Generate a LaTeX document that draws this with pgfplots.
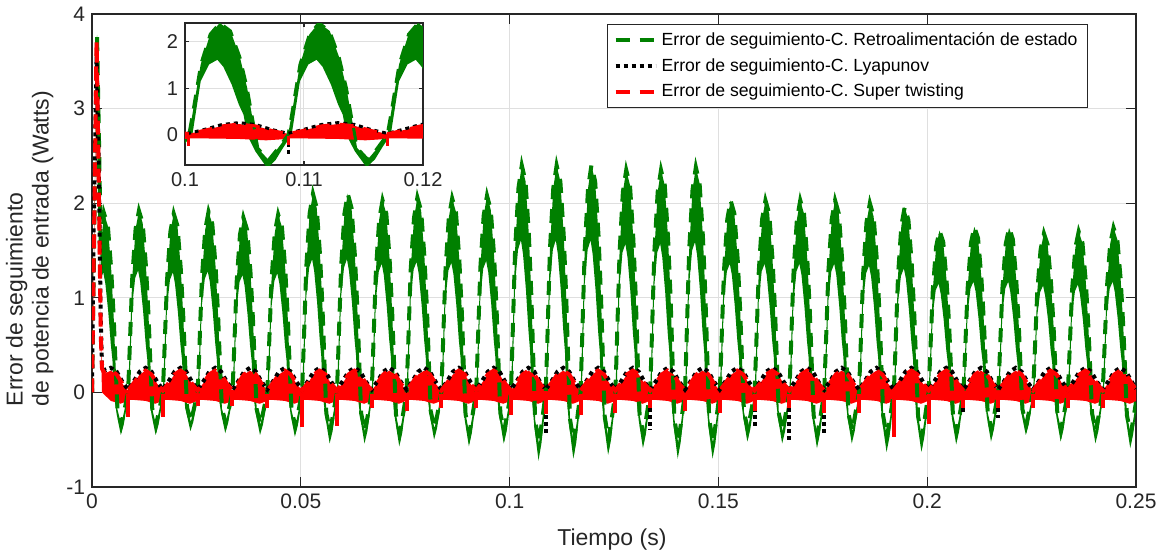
\documentclass[border=0pt]{standalone}
\usepackage{fontspec}
\setmainfont{Liberation Sans}
\usepackage{pgfplots}
\usepackage{pgfplotstable}
\pgfplotsset{compat=1.18}
\usepgfplotslibrary{fillbetween}
\definecolor{mgreen}{rgb}{0,0.5,0}
\definecolor{axgray}{rgb}{0.15,0.15,0.15}
\definecolor{gridgray}{rgb}{0.875,0.875,0.875}

% green band: upper edge
\pgfplotstableread[row sep=\\]{
t v\\
0 0\\ 0.0005 1.55\\ 0.0012 3.78\\ 0.0017 2.60\\ 0.0021 1.50\\ 0.0025 1.72\\ 0.0029 1.89\\ 0.0038 1.76\\ 0.0046 1.30\\ 0.0052 0.79\\ 0.0056 0.34\\ 0.0061 -0.18\\ 0.0070 -0.34\\ 0.0077 -0.20\\
0.00864 0\\ 0.00894 0.35\\ 0.00964 1.21\\ 0.01044 1.73\\ 0.01124 1.92\\ 0.01214 1.79\\ 0.01294 1.32\\ 0.01354 0.81\\ 0.01394 0.35\\ 0.01444 -0.18\\ 0.01534 -0.34\\ 0.01604 -0.20\\
0.01697 0\\ 0.01727 0.34\\ 0.01797 1.19\\ 0.01877 1.70\\ 0.01957 1.89\\ 0.02047 1.76\\ 0.02127 1.30\\ 0.02187 0.79\\ 0.02227 0.34\\ 0.02277 -0.16\\ 0.02367 -0.31\\ 0.02437 -0.18\\
0.02531 0\\ 0.02561 0.34\\ 0.02631 1.20\\ 0.02711 1.72\\ 0.02791 1.91\\ 0.02881 1.78\\ 0.02961 1.32\\ 0.03021 0.80\\ 0.03061 0.34\\ 0.03111 -0.17\\ 0.03201 -0.32\\ 0.03271 -0.19\\
0.03364 0\\ 0.03394 0.33\\ 0.03464 1.17\\ 0.03544 1.67\\ 0.03624 1.85\\ 0.03714 1.72\\ 0.03794 1.28\\ 0.03854 0.78\\ 0.03894 0.33\\ 0.03944 -0.18\\ 0.04034 -0.34\\ 0.04104 -0.20\\
0.04198 0\\ 0.04228 0.34\\ 0.04298 1.18\\ 0.04378 1.69\\ 0.04458 1.88\\ 0.04548 1.75\\ 0.04628 1.30\\ 0.04688 0.79\\ 0.04728 0.34\\ 0.04778 -0.19\\ 0.04868 -0.35\\ 0.04938 -0.21\\
0.05031 0\\ 0.05061 0.38\\ 0.05131 1.32\\ 0.05211 1.89\\ 0.05291 2.10\\ 0.05381 1.95\\ 0.05461 1.45\\ 0.05521 0.88\\ 0.05561 0.38\\ 0.05611 -0.22\\ 0.05701 -0.41\\ 0.05771 -0.24\\
0.05865 0\\ 0.05895 0.38\\ 0.05965 1.32\\ 0.06045 1.89\\ 0.06125 2.10\\ 0.06215 1.95\\ 0.06295 1.45\\ 0.06355 0.88\\ 0.06395 0.38\\ 0.06445 -0.22\\ 0.06535 -0.41\\ 0.06605 -0.24\\
0.06698 0\\ 0.06728 0.37\\ 0.06798 1.28\\ 0.06878 1.83\\ 0.06958 2.03\\ 0.07048 1.89\\ 0.07128 1.40\\ 0.07188 0.85\\ 0.07228 0.37\\ 0.07278 -0.23\\ 0.07368 -0.43\\ 0.07438 -0.26\\
0.07532 0\\ 0.07562 0.37\\ 0.07632 1.30\\ 0.07712 1.85\\ 0.07792 2.06\\ 0.07882 1.92\\ 0.07962 1.42\\ 0.08022 0.87\\ 0.08062 0.37\\ 0.08112 -0.20\\ 0.08202 -0.38\\ 0.08272 -0.23\\
0.08365 0\\ 0.08395 0.37\\ 0.08465 1.29\\ 0.08545 1.85\\ 0.08625 2.05\\ 0.08715 1.91\\ 0.08795 1.41\\ 0.08855 0.86\\ 0.08895 0.37\\ 0.08945 -0.23\\ 0.09035 -0.43\\ 0.09105 -0.26\\
0.09199 0\\ 0.09229 0.37\\ 0.09299 1.31\\ 0.09379 1.87\\ 0.09459 2.08\\ 0.09549 1.93\\ 0.09629 1.44\\ 0.09689 0.87\\ 0.09729 0.37\\ 0.09779 -0.22\\ 0.09869 -0.41\\ 0.09939 -0.24\\
0.10032 0\\ 0.10062 0.43\\ 0.10132 1.51\\ 0.10212 2.16\\ 0.10292 2.40\\ 0.10382 2.23\\ 0.10462 1.66\\ 0.10522 1.01\\ 0.10562 0.43\\ 0.10612 -0.29\\ 0.10702 -0.54\\ 0.10772 -0.32\\
0.10866 0\\ 0.10896 0.43\\ 0.10966 1.51\\ 0.11046 2.16\\ 0.11126 2.40\\ 0.11216 2.23\\ 0.11296 1.66\\ 0.11356 1.01\\ 0.11396 0.43\\ 0.11446 -0.28\\ 0.11536 -0.53\\ 0.11606 -0.32\\
0.11699 0\\ 0.11729 0.43\\ 0.11799 1.51\\ 0.11879 2.16\\ 0.11959 2.40\\ 0.12049 2.23\\ 0.12129 1.66\\ 0.12189 1.01\\ 0.12229 0.43\\ 0.12279 -0.26\\ 0.12369 -0.50\\ 0.12439 -0.30\\
0.12533 0\\ 0.12563 0.42\\ 0.12633 1.48\\ 0.12713 2.12\\ 0.12793 2.35\\ 0.12883 2.19\\ 0.12963 1.62\\ 0.13023 0.99\\ 0.13063 0.42\\ 0.13113 -0.24\\ 0.13203 -0.44\\ 0.13273 -0.27\\
0.13366 0\\ 0.13396 0.42\\ 0.13466 1.48\\ 0.13546 2.12\\ 0.13626 2.35\\ 0.13716 2.19\\ 0.13796 1.62\\ 0.13856 0.99\\ 0.13896 0.42\\ 0.13946 -0.28\\ 0.14036 -0.53\\ 0.14106 -0.32\\
0.14200 0\\ 0.14230 0.43\\ 0.14300 1.50\\ 0.14380 2.14\\ 0.14460 2.38\\ 0.14550 2.21\\ 0.14630 1.64\\ 0.14690 1.00\\ 0.14730 0.43\\ 0.14780 -0.28\\ 0.14870 -0.53\\ 0.14940 -0.32\\
0.15033 0\\ 0.15063 0.37\\ 0.15133 1.28\\ 0.15213 1.83\\ 0.15293 2.03\\ 0.15383 1.89\\ 0.15463 1.40\\ 0.15523 0.85\\ 0.15563 0.37\\ 0.15613 -0.21\\ 0.15703 -0.39\\ 0.15773 -0.23\\
0.15867 0\\ 0.15897 0.37\\ 0.15967 1.28\\ 0.16047 1.83\\ 0.16127 2.03\\ 0.16217 1.89\\ 0.16297 1.40\\ 0.16357 0.85\\ 0.16397 0.37\\ 0.16447 -0.22\\ 0.16537 -0.41\\ 0.16607 -0.24\\
0.16700 0\\ 0.16730 0.37\\ 0.16800 1.28\\ 0.16880 1.83\\ 0.16960 2.03\\ 0.17050 1.89\\ 0.17130 1.40\\ 0.17190 0.85\\ 0.17230 0.37\\ 0.17280 -0.24\\ 0.17370 -0.44\\ 0.17440 -0.27\\
0.17534 0\\ 0.17564 0.37\\ 0.17634 1.28\\ 0.17714 1.83\\ 0.17794 2.03\\ 0.17884 1.89\\ 0.17964 1.40\\ 0.18024 0.85\\ 0.18064 0.37\\ 0.18114 -0.22\\ 0.18204 -0.41\\ 0.18274 -0.24\\
0.18367 0\\ 0.18397 0.36\\ 0.18467 1.26\\ 0.18547 1.80\\ 0.18627 2.00\\ 0.18717 1.86\\ 0.18797 1.38\\ 0.18857 0.84\\ 0.18897 0.36\\ 0.18947 -0.25\\ 0.19037 -0.47\\ 0.19107 -0.28\\
0.19201 0\\ 0.19231 0.35\\ 0.19301 1.23\\ 0.19381 1.76\\ 0.19461 1.96\\ 0.19551 1.82\\ 0.19631 1.35\\ 0.19691 0.82\\ 0.19731 0.35\\ 0.19781 -0.25\\ 0.19871 -0.47\\ 0.19941 -0.28\\
0.20034 0\\ 0.20064 0.31\\ 0.20134 1.08\\ 0.20214 1.54\\ 0.20294 1.71\\ 0.20384 1.59\\ 0.20464 1.18\\ 0.20524 0.72\\ 0.20564 0.31\\ 0.20614 -0.22\\ 0.20704 -0.41\\ 0.20774 -0.25\\
0.20868 0\\ 0.20898 0.32\\ 0.20968 1.10\\ 0.21048 1.58\\ 0.21128 1.75\\ 0.21218 1.63\\ 0.21298 1.21\\ 0.21358 0.74\\ 0.21398 0.32\\ 0.21448 -0.21\\ 0.21538 -0.39\\ 0.21608 -0.23\\
0.21701 0\\ 0.21731 0.31\\ 0.21801 1.10\\ 0.21881 1.57\\ 0.21961 1.74\\ 0.22051 1.62\\ 0.22131 1.20\\ 0.22191 0.73\\ 0.22231 0.31\\ 0.22281 -0.18\\ 0.22371 -0.34\\ 0.22441 -0.20\\
0.22535 0\\ 0.22565 0.30\\ 0.22635 1.06\\ 0.22715 1.51\\ 0.22795 1.68\\ 0.22885 1.56\\ 0.22965 1.16\\ 0.23025 0.71\\ 0.23065 0.30\\ 0.23115 -0.21\\ 0.23205 -0.39\\ 0.23275 -0.23\\
0.23368 0\\ 0.23398 0.31\\ 0.23468 1.07\\ 0.23548 1.53\\ 0.23628 1.70\\ 0.23718 1.58\\ 0.23798 1.17\\ 0.23858 0.71\\ 0.23898 0.31\\ 0.23948 -0.22\\ 0.24038 -0.41\\ 0.24108 -0.24\\
0.24202 0\\ 0.24232 0.31\\ 0.24302 1.10\\ 0.24382 1.57\\ 0.24462 1.74\\ 0.24552 1.62\\ 0.24632 1.20\\ 0.24692 0.73\\ 0.24732 0.31\\ 0.24782 -0.24\\ 0.24872 -0.44\\ 0.24942 -0.27\\ 0.25000 -0.10\\
}\gu

% green band: lower edge
\pgfplotstableread[row sep=\\]{
t v\\
0 0\\ 0.0005 1.45\\ 0.0012 3.70\\ 0.0017 2.50\\ 0.0021 1.20\\ 0.0027 1.27\\ 0.0032 1.15\\ 0.0039 0.85\\ 0.0045 0.51\\ 0.0049 0.34\\ 0.0052 0\\ 0.0059 -0.23\\ 0.0069 -0.45\\ 0.0076 -0.34\\ 0.0082 -0.18\\
0.00894 0\\ 0.00964 0.92\\ 0.01034 1.21\\ 0.01104 1.29\\ 0.01154 1.17\\ 0.01224 0.86\\ 0.01284 0.52\\ 0.01324 0.35\\ 0.01354 0\\ 0.01424 -0.23\\ 0.01524 -0.45\\ 0.01594 -0.34\\ 0.01654 -0.18\\
0.01727 0\\ 0.01797 0.91\\ 0.01867 1.19\\ 0.01937 1.27\\ 0.01987 1.15\\ 0.02057 0.85\\ 0.02117 0.51\\ 0.02157 0.34\\ 0.02187 0\\ 0.02257 -0.21\\ 0.02357 -0.41\\ 0.02427 -0.31\\ 0.02487 -0.16\\
0.02561 0\\ 0.02631 0.92\\ 0.02701 1.20\\ 0.02771 1.28\\ 0.02821 1.17\\ 0.02891 0.86\\ 0.02951 0.52\\ 0.02991 0.34\\ 0.03021 0\\ 0.03091 -0.22\\ 0.03191 -0.43\\ 0.03261 -0.32\\ 0.03321 -0.17\\
0.03394 0\\ 0.03464 0.89\\ 0.03534 1.17\\ 0.03604 1.24\\ 0.03654 1.13\\ 0.03724 0.83\\ 0.03784 0.50\\ 0.03824 0.33\\ 0.03854 0\\ 0.03924 -0.23\\ 0.04024 -0.45\\ 0.04094 -0.34\\ 0.04154 -0.18\\
0.04228 0\\ 0.04298 0.90\\ 0.04368 1.18\\ 0.04438 1.26\\ 0.04488 1.15\\ 0.04558 0.85\\ 0.04618 0.51\\ 0.04658 0.34\\ 0.04688 0\\ 0.04758 -0.24\\ 0.04858 -0.47\\ 0.04928 -0.35\\ 0.04988 -0.19\\
0.05061 0\\ 0.05131 1.01\\ 0.05201 1.32\\ 0.05271 1.41\\ 0.05321 1.28\\ 0.05391 0.95\\ 0.05451 0.57\\ 0.05491 0.38\\ 0.05521 0\\ 0.05591 -0.27\\ 0.05691 -0.54\\ 0.05761 -0.41\\ 0.05821 -0.22\\
0.05895 0\\ 0.05965 1.01\\ 0.06035 1.32\\ 0.06105 1.41\\ 0.06155 1.28\\ 0.06225 0.95\\ 0.06285 0.57\\ 0.06325 0.38\\ 0.06355 0\\ 0.06425 -0.27\\ 0.06525 -0.54\\ 0.06595 -0.41\\ 0.06655 -0.22\\
0.06728 0\\ 0.06798 0.97\\ 0.06868 1.28\\ 0.06938 1.36\\ 0.06988 1.24\\ 0.07058 0.91\\ 0.07118 0.55\\ 0.07158 0.37\\ 0.07188 0\\ 0.07258 -0.29\\ 0.07358 -0.57\\ 0.07428 -0.43\\ 0.07488 -0.23\\
0.07562 0\\ 0.07632 0.99\\ 0.07702 1.30\\ 0.07772 1.38\\ 0.07822 1.26\\ 0.07892 0.93\\ 0.07952 0.56\\ 0.07992 0.37\\ 0.08022 0\\ 0.08092 -0.25\\ 0.08192 -0.50\\ 0.08262 -0.38\\ 0.08322 -0.20\\
0.08395 0\\ 0.08465 0.98\\ 0.08535 1.29\\ 0.08605 1.37\\ 0.08655 1.25\\ 0.08725 0.92\\ 0.08785 0.55\\ 0.08825 0.37\\ 0.08855 0\\ 0.08925 -0.29\\ 0.09025 -0.57\\ 0.09095 -0.43\\ 0.09155 -0.23\\
0.09229 0\\ 0.09299 1.00\\ 0.09369 1.31\\ 0.09439 1.39\\ 0.09489 1.27\\ 0.09559 0.94\\ 0.09619 0.56\\ 0.09659 0.37\\ 0.09689 0\\ 0.09759 -0.27\\ 0.09859 -0.54\\ 0.09929 -0.41\\ 0.09989 -0.22\\
0.10062 0\\ 0.10132 1.15\\ 0.10202 1.51\\ 0.10272 1.61\\ 0.10322 1.46\\ 0.10392 1.08\\ 0.10452 0.65\\ 0.10492 0.43\\ 0.10522 0\\ 0.10592 -0.36\\ 0.10692 -0.72\\ 0.10762 -0.54\\ 0.10822 -0.29\\
0.10896 0\\ 0.10966 1.15\\ 0.11036 1.51\\ 0.11106 1.61\\ 0.11156 1.46\\ 0.11226 1.08\\ 0.11286 0.65\\ 0.11326 0.43\\ 0.11356 0\\ 0.11426 -0.35\\ 0.11526 -0.70\\ 0.11596 -0.53\\ 0.11656 -0.28\\
0.11729 0\\ 0.11799 1.15\\ 0.11869 1.51\\ 0.11939 1.61\\ 0.11989 1.46\\ 0.12059 1.08\\ 0.12119 0.65\\ 0.12159 0.43\\ 0.12189 0\\ 0.12259 -0.33\\ 0.12359 -0.66\\ 0.12429 -0.50\\ 0.12489 -0.26\\
0.12563 0\\ 0.12633 1.13\\ 0.12703 1.48\\ 0.12773 1.57\\ 0.12823 1.43\\ 0.12893 1.06\\ 0.12953 0.63\\ 0.12993 0.42\\ 0.13023 0\\ 0.13093 -0.30\\ 0.13193 -0.59\\ 0.13263 -0.44\\ 0.13323 -0.24\\
0.13396 0\\ 0.13466 1.13\\ 0.13536 1.48\\ 0.13606 1.57\\ 0.13656 1.43\\ 0.13726 1.06\\ 0.13786 0.63\\ 0.13826 0.42\\ 0.13856 0\\ 0.13926 -0.35\\ 0.14026 -0.70\\ 0.14096 -0.53\\ 0.14156 -0.28\\
0.14230 0\\ 0.14300 1.14\\ 0.14370 1.50\\ 0.14440 1.59\\ 0.14490 1.45\\ 0.14560 1.07\\ 0.14620 0.64\\ 0.14660 0.43\\ 0.14690 0\\ 0.14760 -0.35\\ 0.14860 -0.70\\ 0.14930 -0.53\\ 0.14990 -0.28\\
0.15063 0\\ 0.15133 0.97\\ 0.15203 1.28\\ 0.15273 1.36\\ 0.15323 1.24\\ 0.15393 0.91\\ 0.15453 0.55\\ 0.15493 0.37\\ 0.15523 0\\ 0.15593 -0.26\\ 0.15693 -0.52\\ 0.15763 -0.39\\ 0.15823 -0.21\\
0.15897 0\\ 0.15967 0.97\\ 0.16037 1.28\\ 0.16107 1.36\\ 0.16157 1.24\\ 0.16227 0.91\\ 0.16287 0.55\\ 0.16327 0.37\\ 0.16357 0\\ 0.16427 -0.27\\ 0.16527 -0.54\\ 0.16597 -0.41\\ 0.16657 -0.22\\
0.16730 0\\ 0.16800 0.97\\ 0.16870 1.28\\ 0.16940 1.36\\ 0.16990 1.24\\ 0.17060 0.91\\ 0.17120 0.55\\ 0.17160 0.37\\ 0.17190 0\\ 0.17260 -0.30\\ 0.17360 -0.59\\ 0.17430 -0.44\\ 0.17490 -0.24\\
0.17564 0\\ 0.17634 0.97\\ 0.17704 1.28\\ 0.17774 1.36\\ 0.17824 1.24\\ 0.17894 0.91\\ 0.17954 0.55\\ 0.17994 0.37\\ 0.18024 0\\ 0.18094 -0.27\\ 0.18194 -0.54\\ 0.18264 -0.41\\ 0.18324 -0.22\\
0.18397 0\\ 0.18467 0.96\\ 0.18537 1.26\\ 0.18607 1.34\\ 0.18657 1.22\\ 0.18727 0.90\\ 0.18787 0.54\\ 0.18827 0.36\\ 0.18857 0\\ 0.18927 -0.32\\ 0.19027 -0.63\\ 0.19097 -0.47\\ 0.19157 -0.25\\
0.19231 0\\ 0.19301 0.94\\ 0.19371 1.23\\ 0.19441 1.31\\ 0.19491 1.20\\ 0.19561 0.88\\ 0.19621 0.53\\ 0.19661 0.35\\ 0.19691 0\\ 0.19761 -0.32\\ 0.19861 -0.63\\ 0.19931 -0.47\\ 0.19991 -0.25\\
0.20064 0\\ 0.20134 0.82\\ 0.20204 1.08\\ 0.20274 1.15\\ 0.20324 1.04\\ 0.20394 0.77\\ 0.20454 0.46\\ 0.20494 0.31\\ 0.20524 0\\ 0.20594 -0.28\\ 0.20694 -0.55\\ 0.20764 -0.41\\ 0.20824 -0.22\\
0.20898 0\\ 0.20968 0.84\\ 0.21038 1.10\\ 0.21108 1.17\\ 0.21158 1.07\\ 0.21228 0.79\\ 0.21288 0.47\\ 0.21328 0.32\\ 0.21358 0\\ 0.21428 -0.26\\ 0.21528 -0.52\\ 0.21598 -0.39\\ 0.21658 -0.21\\
0.21731 0\\ 0.21801 0.84\\ 0.21871 1.10\\ 0.21941 1.17\\ 0.21991 1.06\\ 0.22061 0.78\\ 0.22121 0.47\\ 0.22161 0.31\\ 0.22191 0\\ 0.22261 -0.23\\ 0.22361 -0.45\\ 0.22431 -0.34\\ 0.22491 -0.18\\
0.22565 0\\ 0.22635 0.81\\ 0.22705 1.06\\ 0.22775 1.13\\ 0.22825 1.02\\ 0.22895 0.76\\ 0.22955 0.45\\ 0.22995 0.30\\ 0.23025 0\\ 0.23095 -0.26\\ 0.23195 -0.52\\ 0.23265 -0.39\\ 0.23325 -0.21\\
0.23398 0\\ 0.23468 0.82\\ 0.23538 1.07\\ 0.23608 1.14\\ 0.23658 1.04\\ 0.23728 0.77\\ 0.23788 0.46\\ 0.23828 0.31\\ 0.23858 0\\ 0.23928 -0.27\\ 0.24028 -0.54\\ 0.24098 -0.41\\ 0.24158 -0.22\\
0.24232 0\\ 0.24302 0.84\\ 0.24372 1.10\\ 0.24442 1.17\\ 0.24492 1.06\\ 0.24562 0.78\\ 0.24622 0.47\\ 0.24662 0.31\\ 0.24692 0\\ 0.24762 -0.30\\ 0.24862 -0.59\\ 0.24932 -0.44\\ 0.24992 -0.24\\ 0.25000 -0.22\\
}\gl

% super twisting (r) and Lyapunov (b): upper edge
\pgfplotstableread[row sep=\\]{
t r b\\
0 0 0\\ 0.0004 1.35 1.70\\ 0.0011 3.72 3.55\\ 0.0016 2.30 2.45\\ 0.0021 0.60 0.75\\ 0.0024 0.25 0.29\\ 0.0031 0.20 0.23\\ 0.0045 0.23 0.26\\ 0.0059 0.19 0.22\\ 0.0073 0.09 0.11\\
0.00864 0.02 0.03\\ 0.01004 0.10 0.12\\ 0.01144 0.19 0.22\\ 0.01284 0.23 0.26\\ 0.01424 0.19 0.22\\ 0.01564 0.09 0.11\\
0.01697 0.02 0.03\\ 0.01837 0.10 0.12\\ 0.01977 0.19 0.22\\ 0.02117 0.23 0.26\\ 0.02257 0.19 0.22\\ 0.02397 0.09 0.11\\
0.02531 0.02 0.03\\ 0.02671 0.10 0.12\\ 0.02811 0.19 0.22\\ 0.02951 0.23 0.26\\ 0.03091 0.19 0.22\\ 0.03231 0.09 0.11\\
0.03364 0.02 0.03\\ 0.03504 0.10 0.12\\ 0.03644 0.19 0.22\\ 0.03784 0.23 0.26\\ 0.03924 0.19 0.22\\ 0.04064 0.09 0.11\\
0.04198 0.02 0.03\\ 0.04338 0.10 0.12\\ 0.04478 0.19 0.22\\ 0.04618 0.23 0.26\\ 0.04758 0.19 0.22\\ 0.04898 0.09 0.11\\
0.05031 0.02 0.03\\ 0.05171 0.10 0.12\\ 0.05311 0.19 0.22\\ 0.05451 0.23 0.26\\ 0.05591 0.19 0.22\\ 0.05731 0.09 0.11\\
0.05865 0.02 0.03\\ 0.06005 0.10 0.12\\ 0.06145 0.19 0.22\\ 0.06285 0.23 0.26\\ 0.06425 0.19 0.22\\ 0.06565 0.09 0.11\\
0.06698 0.02 0.03\\ 0.06838 0.10 0.12\\ 0.06978 0.19 0.22\\ 0.07118 0.23 0.26\\ 0.07258 0.19 0.22\\ 0.07398 0.09 0.11\\
0.07532 0.02 0.03\\ 0.07672 0.10 0.12\\ 0.07812 0.19 0.22\\ 0.07952 0.23 0.26\\ 0.08092 0.19 0.22\\ 0.08232 0.09 0.11\\
0.08365 0.02 0.03\\ 0.08505 0.10 0.12\\ 0.08645 0.19 0.22\\ 0.08785 0.23 0.26\\ 0.08925 0.19 0.22\\ 0.09065 0.09 0.11\\
0.09199 0.02 0.03\\ 0.09339 0.10 0.12\\ 0.09479 0.19 0.22\\ 0.09619 0.23 0.26\\ 0.09759 0.19 0.22\\ 0.09899 0.09 0.11\\
0.10032 0.02 0.03\\ 0.10172 0.10 0.12\\ 0.10312 0.19 0.22\\ 0.10452 0.23 0.26\\ 0.10592 0.19 0.22\\ 0.10732 0.09 0.11\\
0.10866 0.02 0.03\\ 0.11006 0.10 0.12\\ 0.11146 0.19 0.22\\ 0.11286 0.23 0.26\\ 0.11426 0.19 0.22\\ 0.11566 0.09 0.11\\
0.11699 0.02 0.03\\ 0.11839 0.10 0.12\\ 0.11979 0.19 0.22\\ 0.12119 0.23 0.26\\ 0.12259 0.19 0.22\\ 0.12399 0.09 0.11\\
0.12533 0.02 0.03\\ 0.12673 0.10 0.12\\ 0.12813 0.19 0.22\\ 0.12953 0.23 0.26\\ 0.13093 0.19 0.22\\ 0.13233 0.09 0.11\\
0.13366 0.02 0.03\\ 0.13506 0.10 0.12\\ 0.13646 0.19 0.22\\ 0.13786 0.23 0.26\\ 0.13926 0.19 0.22\\ 0.14066 0.09 0.11\\
0.14200 0.02 0.03\\ 0.14340 0.10 0.12\\ 0.14480 0.19 0.22\\ 0.14620 0.23 0.26\\ 0.14760 0.19 0.22\\ 0.14900 0.09 0.11\\
0.15033 0.02 0.03\\ 0.15173 0.10 0.12\\ 0.15313 0.19 0.22\\ 0.15453 0.23 0.26\\ 0.15593 0.19 0.22\\ 0.15733 0.09 0.11\\
0.15867 0.02 0.03\\ 0.16007 0.10 0.12\\ 0.16147 0.19 0.22\\ 0.16287 0.23 0.26\\ 0.16427 0.19 0.22\\ 0.16567 0.09 0.11\\
0.16700 0.02 0.03\\ 0.16840 0.10 0.12\\ 0.16980 0.19 0.22\\ 0.17120 0.23 0.26\\ 0.17260 0.19 0.22\\ 0.17400 0.09 0.11\\
0.17534 0.02 0.03\\ 0.17674 0.10 0.12\\ 0.17814 0.19 0.22\\ 0.17954 0.23 0.26\\ 0.18094 0.19 0.22\\ 0.18234 0.09 0.11\\
0.18367 0.02 0.03\\ 0.18507 0.10 0.12\\ 0.18647 0.19 0.22\\ 0.18787 0.23 0.26\\ 0.18927 0.19 0.22\\ 0.19067 0.09 0.11\\
0.19201 0.02 0.03\\ 0.19341 0.10 0.12\\ 0.19481 0.19 0.22\\ 0.19621 0.23 0.26\\ 0.19761 0.19 0.22\\ 0.19901 0.09 0.11\\
0.20034 0.02 0.03\\ 0.20174 0.10 0.12\\ 0.20314 0.19 0.22\\ 0.20454 0.23 0.26\\ 0.20594 0.19 0.22\\ 0.20734 0.09 0.11\\
0.20868 0.02 0.03\\ 0.21008 0.10 0.12\\ 0.21148 0.19 0.22\\ 0.21288 0.23 0.26\\ 0.21428 0.19 0.22\\ 0.21568 0.09 0.11\\
0.21701 0.02 0.03\\ 0.21841 0.10 0.12\\ 0.21981 0.19 0.22\\ 0.22121 0.23 0.26\\ 0.22261 0.19 0.22\\ 0.22401 0.09 0.11\\
0.22535 0.02 0.03\\ 0.22675 0.10 0.12\\ 0.22815 0.19 0.22\\ 0.22955 0.23 0.26\\ 0.23095 0.19 0.22\\ 0.23235 0.09 0.11\\
0.23368 0.02 0.03\\ 0.23508 0.10 0.12\\ 0.23648 0.19 0.22\\ 0.23788 0.23 0.26\\ 0.23928 0.19 0.22\\ 0.24068 0.09 0.11\\
0.24202 0.02 0.03\\ 0.24342 0.10 0.12\\ 0.24482 0.19 0.22\\ 0.24622 0.23 0.26\\ 0.24762 0.19 0.22\\ 0.24902 0.09 0.11\\ 0.25000 0.03 0.04\\
}\rbu

% super twisting: lower edge
\pgfplotstableread[row sep=\\]{
t v\\
0 0\\ 0.0005 1.50\\ 0.0011 3.60\\ 0.0016 2.20\\ 0.0021 0.50\\ 0.0024 0.00\\ 0.0045 -0.09\\ 0.0068 -0.12\\ 0.0080 -0.10\\
0.00864 -0.08\\ 0.01014 -0.08\\ 0.01284 -0.09\\ 0.01514 -0.12\\ 0.01634 -0.10\\
0.01697 -0.08\\ 0.01847 -0.08\\ 0.02117 -0.09\\ 0.02347 -0.12\\ 0.02467 -0.10\\
0.02531 -0.08\\ 0.02681 -0.08\\ 0.02951 -0.09\\ 0.03181 -0.12\\ 0.03301 -0.10\\
0.03364 -0.08\\ 0.03514 -0.08\\ 0.03784 -0.09\\ 0.04014 -0.12\\ 0.04134 -0.10\\
0.04198 -0.08\\ 0.04348 -0.08\\ 0.04618 -0.09\\ 0.04848 -0.12\\ 0.04968 -0.10\\
0.05031 -0.08\\ 0.05181 -0.08\\ 0.05451 -0.09\\ 0.05681 -0.12\\ 0.05801 -0.10\\
0.05865 -0.08\\ 0.06015 -0.08\\ 0.06285 -0.09\\ 0.06515 -0.12\\ 0.06635 -0.10\\
0.06698 -0.08\\ 0.06848 -0.08\\ 0.07118 -0.09\\ 0.07348 -0.12\\ 0.07468 -0.10\\
0.07532 -0.08\\ 0.07682 -0.08\\ 0.07952 -0.09\\ 0.08182 -0.12\\ 0.08302 -0.10\\
0.08365 -0.08\\ 0.08515 -0.08\\ 0.08785 -0.09\\ 0.09015 -0.12\\ 0.09135 -0.10\\
0.09199 -0.08\\ 0.09349 -0.08\\ 0.09619 -0.09\\ 0.09849 -0.12\\ 0.09969 -0.10\\
0.10032 -0.08\\ 0.10182 -0.08\\ 0.10452 -0.09\\ 0.10682 -0.12\\ 0.10802 -0.10\\
0.10866 -0.08\\ 0.11016 -0.08\\ 0.11286 -0.09\\ 0.11516 -0.12\\ 0.11636 -0.10\\
0.11699 -0.08\\ 0.11849 -0.08\\ 0.12119 -0.09\\ 0.12349 -0.12\\ 0.12469 -0.10\\
0.12533 -0.08\\ 0.12683 -0.08\\ 0.12953 -0.09\\ 0.13183 -0.12\\ 0.13303 -0.10\\
0.13366 -0.08\\ 0.13516 -0.08\\ 0.13786 -0.09\\ 0.14016 -0.12\\ 0.14136 -0.10\\
0.14200 -0.08\\ 0.14350 -0.08\\ 0.14620 -0.09\\ 0.14850 -0.12\\ 0.14970 -0.10\\
0.15033 -0.08\\ 0.15183 -0.08\\ 0.15453 -0.09\\ 0.15683 -0.12\\ 0.15803 -0.10\\
0.15867 -0.08\\ 0.16017 -0.08\\ 0.16287 -0.09\\ 0.16517 -0.12\\ 0.16637 -0.10\\
0.16700 -0.08\\ 0.16850 -0.08\\ 0.17120 -0.09\\ 0.17350 -0.12\\ 0.17470 -0.10\\
0.17534 -0.08\\ 0.17684 -0.08\\ 0.17954 -0.09\\ 0.18184 -0.12\\ 0.18304 -0.10\\
0.18367 -0.08\\ 0.18517 -0.08\\ 0.18787 -0.09\\ 0.19017 -0.12\\ 0.19137 -0.10\\
0.19201 -0.08\\ 0.19351 -0.08\\ 0.19621 -0.09\\ 0.19851 -0.12\\ 0.19971 -0.10\\
0.20034 -0.08\\ 0.20184 -0.08\\ 0.20454 -0.09\\ 0.20684 -0.12\\ 0.20804 -0.10\\
0.20868 -0.08\\ 0.21018 -0.08\\ 0.21288 -0.09\\ 0.21518 -0.12\\ 0.21638 -0.10\\
0.21701 -0.08\\ 0.21851 -0.08\\ 0.22121 -0.09\\ 0.22351 -0.12\\ 0.22471 -0.10\\
0.22535 -0.08\\ 0.22685 -0.08\\ 0.22955 -0.09\\ 0.23185 -0.12\\ 0.23305 -0.10\\
0.23368 -0.08\\ 0.23518 -0.08\\ 0.23788 -0.09\\ 0.24018 -0.12\\ 0.24138 -0.10\\
0.24202 -0.08\\ 0.24352 -0.08\\ 0.24622 -0.09\\ 0.24852 -0.12\\ 0.24972 -0.10\\ 0.25000 -0.09\\
}\rl

% downward spikes at the switching instants
\pgfplotstableread[row sep=\\]{
t v\\
0.00864 -0.02\\ 0.00864 -0.26\\ 0.00864 nan\\
0.01697 -0.02\\ 0.01697 -0.26\\ 0.01697 nan\\
0.02531 -0.02\\ 0.02531 -0.14\\ 0.02531 nan\\
0.03364 -0.02\\ 0.03364 -0.14\\ 0.03364 nan\\
0.04198 -0.02\\ 0.04198 -0.16\\ 0.04198 nan\\
0.05031 -0.02\\ 0.05031 -0.37\\ 0.05031 nan\\
0.05865 -0.02\\ 0.05865 -0.35\\ 0.05865 nan\\
0.06698 -0.02\\ 0.06698 -0.16\\ 0.06698 nan\\
0.07532 -0.02\\ 0.07532 -0.20\\ 0.07532 nan\\
0.08365 -0.02\\ 0.08365 -0.16\\ 0.08365 nan\\
0.09199 -0.02\\ 0.09199 -0.16\\ 0.09199 nan\\
0.10032 -0.02\\ 0.10032 -0.24\\ 0.10032 nan\\
0.10866 -0.02\\ 0.10866 -0.23\\ 0.10866 nan\\
0.11699 -0.02\\ 0.11699 -0.24\\ 0.11699 nan\\
0.12533 -0.02\\ 0.12533 -0.22\\ 0.12533 nan\\
0.13366 -0.02\\ 0.13366 -0.16\\ 0.13366 nan\\
0.14200 -0.02\\ 0.14200 -0.20\\ 0.14200 nan\\
0.15033 -0.02\\ 0.15033 -0.22\\ 0.15033 nan\\
0.15867 -0.02\\ 0.15867 -0.20\\ 0.15867 nan\\
0.16700 -0.02\\ 0.16700 -0.16\\ 0.16700 nan\\
0.17534 -0.02\\ 0.17534 -0.22\\ 0.17534 nan\\
0.18367 -0.02\\ 0.18367 -0.22\\ 0.18367 nan\\
0.19201 -0.02\\ 0.19201 -0.47\\ 0.19201 nan\\
0.20034 -0.02\\ 0.20034 -0.33\\ 0.20034 nan\\
0.20868 -0.02\\ 0.20868 -0.16\\ 0.20868 nan\\
0.21701 -0.02\\ 0.21701 -0.16\\ 0.21701 nan\\
0.22535 -0.02\\ 0.22535 -0.16\\ 0.22535 nan\\
0.23368 -0.02\\ 0.23368 -0.16\\ 0.23368 nan\\
0.24202 -0.02\\ 0.24202 -0.16\\ 0.24202 nan\\
}\rsp

\pgfplotstableread[row sep=\\]{
t v\\
0.05865 -0.02\\ 0.05865 -0.30\\ 0.05865 nan\\
0.10032 -0.02\\ 0.10032 -0.14\\ 0.10032 nan\\
0.10866 -0.02\\ 0.10866 -0.45\\ 0.10866 nan\\
0.13366 -0.02\\ 0.13366 -0.40\\ 0.13366 nan\\
0.15867 -0.02\\ 0.15867 -0.35\\ 0.15867 nan\\
0.16700 -0.02\\ 0.16700 -0.53\\ 0.16700 nan\\
0.17534 -0.02\\ 0.17534 -0.45\\ 0.17534 nan\\
0.20868 -0.02\\ 0.20868 -0.22\\ 0.20868 nan\\
0.21701 -0.02\\ 0.21701 -0.27\\ 0.21701 nan\\
}\bsp

\newcommand{\series}[2]{%
  \addplot[draw=none, name path=gl#1, forget plot] table[x=t,y=v] {\gl};
  \addplot[mgreen, line width=#2, dash pattern=on 7pt off 5pt, name path=gu#1, forget plot] table[x=t,y=v] {\gu};
  \addplot[fill=mgreen, draw=none, forget plot] fill between[of=gu#1 and gl#1];
  \addplot[black, line width=#2, dash pattern=on 2pt off 2pt, forget plot] table[x=t,y=b] {\rbu};
  \addplot[black, line width=#2, dash pattern=on 2pt off 1.5pt, unbounded coords=jump, forget plot] table[x=t,y=v] {\bsp};
  \addplot[draw=none, name path=rl#1, forget plot] table[x=t,y=v] {\rl};
  \addplot[red, line width=#2, dash pattern=on 7pt off 5pt, name path=ru#1, forget plot] table[x=t,y=r] {\rbu};
  \addplot[fill=red, draw=none, forget plot] fill between[of=ru#1 and rl#1];
  \addplot[red, line width=#2, unbounded coords=jump, forget plot] table[x=t,y=v] {\rsp};
}

\begin{document}
\begin{tikzpicture}
\begin{axis}[
  at={(0,0)}, anchor=south west,
  scale only axis, width=522pt, height=236.5pt,
  xmin=0, xmax=0.25, ymin=-1, ymax=4,
  xtick={0,0.05,0.1,0.15,0.2,0.25}, xticklabels={0,0.05,0.1,0.15,0.2,0.25},
  ytick={-1,0,1,2,3,4}, yticklabels={-1,0,1,2,3,4},
  tick align=inside, major tick length=5pt,
  grid=major, major grid style={gridgray, line width=0.5pt},
  axis line style={axgray, line width=0.6pt},
  every tick/.style={axgray, line width=0.6pt},
  /pgf/number format/assume math mode=true,
  tick label style={font=\fontsize{10.5}{12}\selectfont, text=axgray},
  xlabel={Tiempo (s)},
  ylabel={Error de seguimiento\\de potencia de entrada (Watts)},
  label style={font=\fontsize{11.5}{13}\selectfont, text=axgray},
  xlabel style={at={(axis description cs:0.498,-0.112)}, anchor=center},
  ylabel style={at={(axis description cs:-0.0598,0.504)}, anchor=center, align=left},
  legend style={at={(0.954,0.979)}, anchor=north east, draw=axgray, line width=0.5pt,
    fill=white, font=\fontsize{8.8}{10}\selectfont, row sep=1pt, inner xsep=3pt, inner ysep=2pt,
    cells={anchor=west}},
  legend image code/.code={\draw[#1] (0pt,0pt) -- (20pt,0pt);},
]
\addlegendimage{mgreen, line width=2pt, dash pattern=on 7pt off 5pt}
\addlegendentry{Error de seguimiento-C. Retroalimentación de estado}
\addlegendimage{black, line width=2pt, dash pattern=on 2pt off 2pt}
\addlegendentry{Error de seguimiento-C. Lyapunov}
\addlegendimage{red, line width=2pt, dash pattern=on 7pt off 5pt}
\addlegendentry{Error de seguimiento-C. Super twisting}
\series{a}{2pt}
\end{axis}

\begin{axis}[
  at={(46.5pt,161pt)}, anchor=south west,
  scale only axis, width=119pt, height=71pt,
  xmin=0.1, xmax=0.12, ymin=-0.65, ymax=2.4,
  xtick={0.1,0.11,0.12}, xticklabels={0.1,0.11,0.12},
  ytick={0,1,2}, yticklabels={0,1,2},
  tick align=inside, major tick length=2pt,
  grid=major, major grid style={gridgray, line width=0.5pt},
  axis line style={axgray, line width=0.6pt},
  every tick/.style={axgray, line width=0.6pt},
  axis background/.style={fill=white},
  tick label style={font=\fontsize{10}{12}\selectfont, text=axgray},
]
\series{b}{1.5pt}
\end{axis}

\pgfresetboundingbox
\path[use as bounding box] (-46pt,-33.5pt) rectangle (536pt,243.5pt);
\end{tikzpicture}
\end{document}
